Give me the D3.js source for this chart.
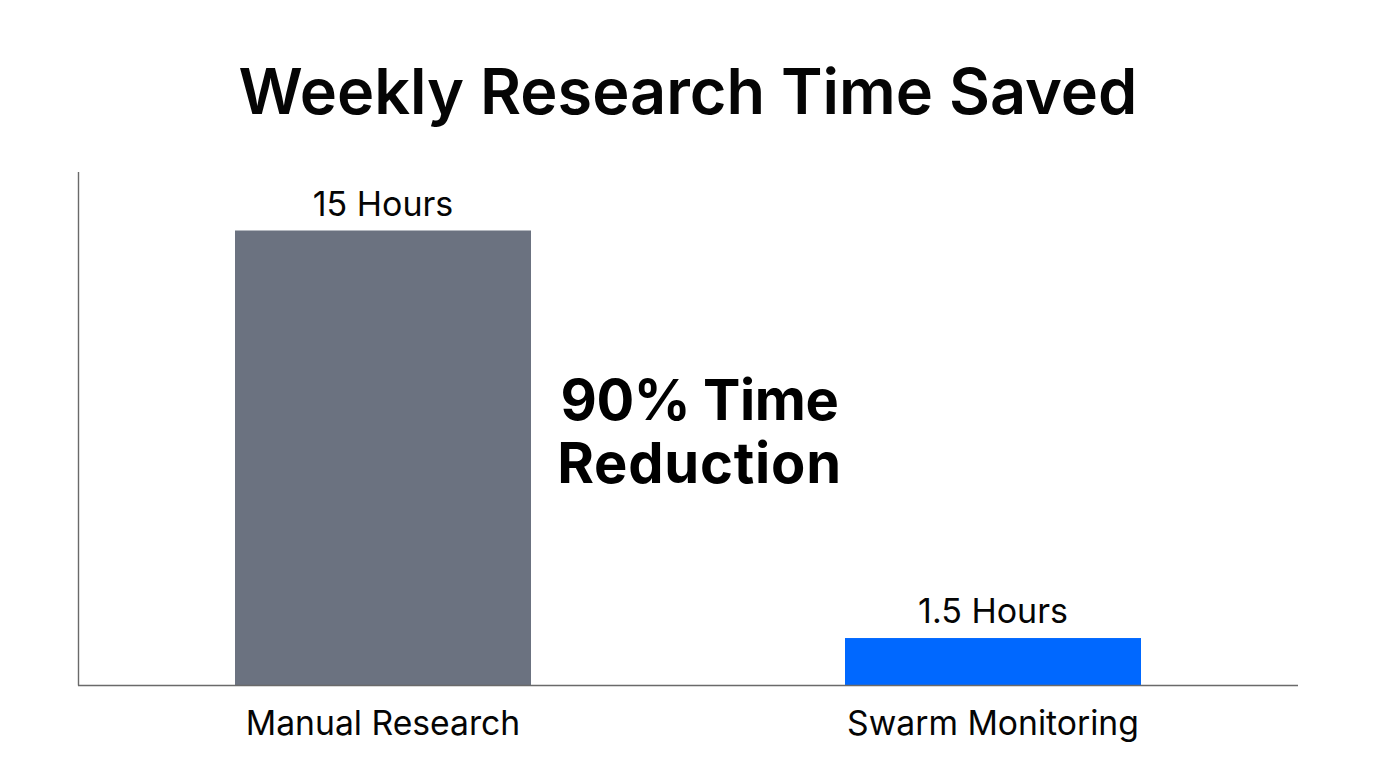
<!DOCTYPE html>
<html><head><meta charset="utf-8">
<script src="https://cdn.jsdelivr.net/npm/d3@7/dist/d3.min.js"></script>
<style>html,body{margin:0;padding:0;background:#fff}svg{display:block}text{font-family:Inter,sans-serif;fill:#050505}</style>
</head><body><svg id="c" width="1376" height="768"></svg>
<script>
const categories=["Manual Research","Swarm Monitoring"];
const hours=[15,1.55];
const valueLabels=["15 Hours","1.5 Hours"];
const barColors=["#6b7280","#0068ff"];
const titleText="Weekly Research Time Saved";
const calloutLines=["90% Time","Reduction"];
const svg=d3.select("#c");
const x=d3.scalePoint().domain(categories).range([383,993]);
const y=d3.scaleLinear().domain([0,15]).range([685,230.5]);
const barW=296;
svg.append("text").attr("x",688).attr("y",114).attr("text-anchor","middle").attr("font-size",63).attr("font-weight",600).text(titleText);
svg.selectAll("rect.bar").data(categories).join("rect").attr("class","bar")
 .attr("x",d=>x(d)-barW/2).attr("width",barW)
 .attr("y",(d,i)=>y(hours[i])).attr("height",(d,i)=>y(0)-y(hours[i]))
 .attr("fill",(d,i)=>barColors[i]);
svg.selectAll("text.val").data(categories).join("text").attr("class","val")
 .attr("x",d=>x(d)).attr("y",(d,i)=>y(hours[i])-15).attr("text-anchor","middle").attr("font-size",34)
 .text((d,i)=>valueLabels[i]);
svg.selectAll("text.cat").data(categories).join("text").attr("class","cat")
 .attr("x",d=>x(d)).attr("y",735).attr("text-anchor","middle").attr("font-size",33.7).text(d=>d);
svg.selectAll("text.call").data(calloutLines).join("text").attr("class","call")
 .attr("x",699.5).attr("y",(d,i)=>420+i*63).attr("text-anchor","middle").attr("font-size",56).attr("font-weight",700)
 .attr("letter-spacing",(d,i)=>i?0.8:-0.4).style("fill","#000").text(d=>d);
svg.append("line").attr("x1",78.5).attr("x2",78.5).attr("y1",172).attr("y2",685.5).attr("stroke","#6a6a6a").attr("stroke-width",1.4);
svg.append("line").attr("x1",78).attr("x2",1298).attr("y1",685.5).attr("y2",685.5).attr("stroke","#6a6a6a").attr("stroke-width",1.4);
</script></body></html>
